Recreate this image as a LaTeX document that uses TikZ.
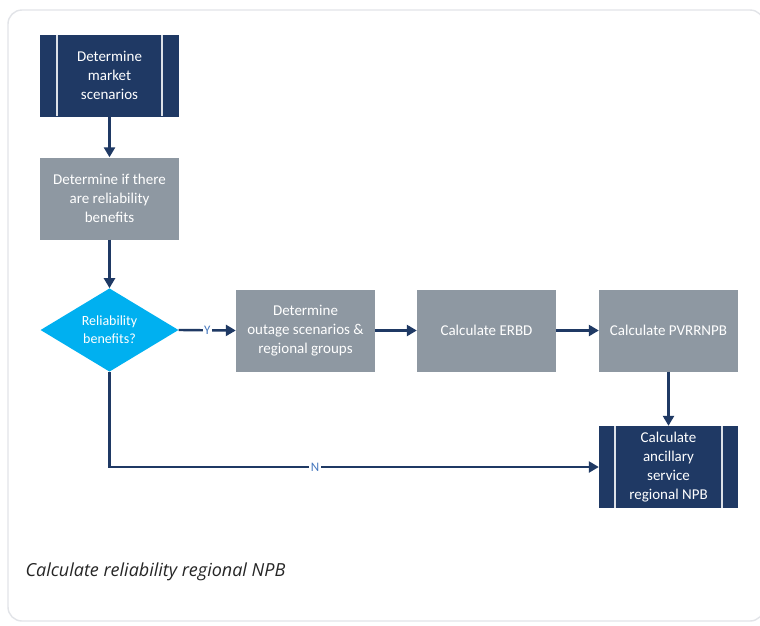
\documentclass[tikz,border=0pt]{standalone}
\usepackage{fontspec}
\setmainfont{Carlito}
\newfontfamily\capfont{Open Sans}
\usetikzlibrary{shapes.geometric,arrows.meta}
\definecolor{navy}{RGB}{31,57,100}
\definecolor{greybox}{RGB}{142,152,162}
\definecolor{cyanbox}{RGB}{0,176,240}
\definecolor{framegrey}{RGB}{226,228,232}
\definecolor{lblblue}{RGB}{70,120,190}
\tikzset{
  procbox/.style={rectangle, fill=#1, minimum width=139pt, minimum height=82pt, inner sep=2pt,
    text=white, align=center, font=\fontsize{15}{19}\selectfont},
  decbox/.style={diamond, fill=cyanbox, minimum width=138pt, minimum height=80pt, inner sep=0pt,
    text=white, align=center, font=\fontsize{14}{18}\selectfont},
  conn/.style={draw=navy, line width=2.4pt, -{Triangle[length=10pt,width=11pt]}},
  lbl/.style={fill=white, text=lblblue, inner sep=1.5pt, font=\fontsize{13}{13}\selectfont},
  sidebar/.style={draw=white!85!navy, line width=1.4pt}
}
\begin{document}
\begin{tikzpicture}[x=1pt,y=-1pt]
\useasboundingbox (0,0) rectangle (760,625);
\fill[white] (0,0) rectangle (760,625);
\draw[framegrey, line width=1.4pt, rounded corners=14pt] (8,10) rectangle (764,621);

\node[procbox=navy] (b1) at (109.5,75.5) {Determine\\market\\scenarios};
\draw[sidebar] (57,35) -- (57,116);
\draw[sidebar] (162,35) -- (162,116);

\node[procbox=greybox] (b2) at (109.5,198.5) {Determine if there\\are reliability\\benefits};

\node[decbox] (d) at (109.5,330) {Reliability\\benefits?};

\node[procbox=greybox] (b3) at (305.5,330.5) {Determine\\outage scenarios \&\\regional groups};
\node[procbox=greybox] (b4) at (486.5,330.5) {Calculate ERBD};
\node[procbox=greybox] (b5) at (668.5,330.5) {Calculate PVRRNPB};

\node[procbox=navy] (b6) at (668.5,467) {Calculate\\ancillary\\service\\regional NPB};
\draw[sidebar] (615,426) -- (615,508);
\draw[sidebar] (722,426) -- (722,508);

\draw[conn] (b1) -- (b2);
\draw[conn] (b2) -- (d);
\draw[conn] (d.east) -- node[lbl]{Y} (b3.west);
\draw[conn] (b3) -- (b4);
\draw[conn] (b4) -- (b5);
\draw[conn] (b5) -- (b6);
\draw[conn] (d.south) |- node[lbl, pos=0.71]{N} (b6.west);

\node[anchor=west, font=\capfont\itshape\fontsize{18}{20}\selectfont, text=black!85] (cap) at (22,572) {Calculate reliability regional NPB};
\end{tikzpicture}
\end{document}
